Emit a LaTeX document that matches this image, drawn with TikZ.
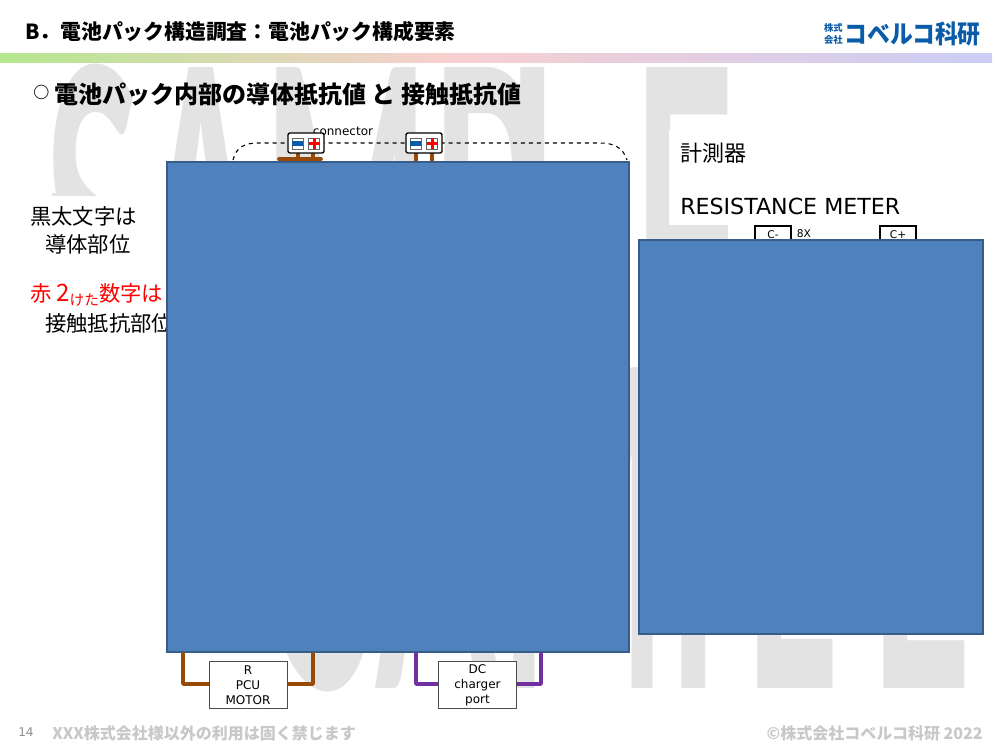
\documentclass[tikz,border=0pt]{standalone}
\usepackage{fontspec}
\setmainfont{DejaVu Sans}
\newfontfamily\jpfont{Noto Sans CJK JP}
\newfontfamily\markfont{Lato}
\usetikzlibrary{positioning}
\definecolor{packblue}{HTML}{4F81BD}
\definecolor{packedge}{HTML}{385D8A}
\definecolor{wirebrown}{HTML}{984807}
\definecolor{wirepurple}{HTML}{7030A0}
\definecolor{logoblue}{HTML}{0B5CA8}
\definecolor{markgray}{HTML}{E3E3E3}
\definecolor{footgray}{HTML}{C8C8C8}
\definecolor{barGreen}{HTML}{B5E78F}
\definecolor{barPink}{HTML}{F8CFD0}
\definecolor{barBlue}{HTML}{CACDF5}
\newcommand{\markword}{SAMP\kern-64pt L\kern64pt E}
\tikzset{
  panel/.style={draw=packedge, line width=1.5pt, fill=packblue, inner sep=0pt},
  body/.style={inner sep=0pt, anchor=west, font=\fontsize{16}{19}\selectfont\jpfont},
  devicebox/.style={draw=black!70, line width=.6pt, fill=white, minimum width=58.5pt, minimum height=35.5pt, inner sep=0pt, align=center, font=\fontsize{9}{11.2}\selectfont},
  socket/.style={draw=black, line width=1pt, rounded corners=1.5pt, fill=white, minimum width=27pt, minimum height=15pt, inner sep=0pt},
  probe/.style={draw=black, line width=1.4pt, fill=white, minimum width=27pt, minimum height=14pt, inner sep=0pt, font=\fontsize{8}{9}\selectfont},
  sign/.style={draw=black!60, line width=.4pt, fill=white, minimum size=8.5pt, inner sep=0pt},
  wire/.style={line width=2.8pt, line join=round, line cap=round},
  sample/.style={inner sep=0pt, anchor=base west, text=markgray, xscale=.4, font=\fontsize{333}{333}\selectfont\markfont\bfseries},
  foot/.style={inner sep=0pt, anchor=west, text=footgray, font=\fontsize{12}{14}\selectfont\jpfont\bfseries}
}
\begin{document}
\begin{tikzpicture}[x=.75pt, y=-.75pt]
  \useasboundingbox (0,0) rectangle (1000,750);

  % watermark
  \node[sample] (markTop) at (44,388) {\markword};
  \node[sample] (markBottom) at (281,688) {\markword};
  \fill[white] (28,196) rectangle (170,420);
  \fill[markgray] (52,193) rectangle (82,196);
  \fill[white] (669,130) rectangle (960,225);
  \fill[markgray] (660,225) rectangle (728,241);

  % head
  \node[inner sep=0pt, anchor=west, font=\fontsize{15.6}{18}\selectfont\jpfont\bfseries] (title) at (25,32) {B．電池パック構造調査：電池パック構成要素};
  \shade[left color=barGreen, right color=barPink] (0,53) rectangle (450,62);
  \shade[left color=barPink, right color=barBlue] (450,53) rectangle (992,62);
  \node[inner sep=0pt, anchor=east, text=logoblue, xscale=.9, font=\fontsize{19}{20}\selectfont\jpfont\bfseries] (logo) at (981,34) {コベルコ科研};
  \node[inner sep=0pt, align=center, anchor=east, text=logoblue, font=\fontsize{7}{9}\selectfont\jpfont\bfseries] (logoKabu) at (843,34) {株式\\会社};
  \node[inner sep=0pt, anchor=west, font=\fontsize{12}{14}\selectfont\jpfont\bfseries] (subMark) at (33,92) {○};
  \node[inner sep=0pt, anchor=west, font=\fontsize{18}{22}\selectfont\jpfont\bfseries] (subtitle) at (54,94) {電池パック内部の導体抵抗値 と 接触抵抗値};

  % left notes
  \node[body] (noteA) at (30,216) {黒太文字は};
  \node[body] (noteB) at (45,244) {導体部位};
  \node[body, text=red] (noteC) at (30,295) {赤 {\fontsize{18}{18}\selectfont 2}\raisebox{-3.5pt}{\fontsize{11}{11}\selectfont けた}数字は};
  \node[body] (noteD) at (45,323) {接触抵抗部位};

  % connector
  \node[inner sep=0pt, font=\fontsize{9}{10}\selectfont] (connLabel) at (343,131) {connector};
  \draw[dashed, line width=.8pt] (233,160) .. controls (236,147) and (245,143) .. (258,143) -- (600,143) .. controls (613,143) and (623,147) .. (627,160);
  \draw[wire, wirebrown] (279,159) -- (321,159);
  \draw[wire, wirebrown] (298,159) -- (298,150);
  \draw[wire, wirebrown] (313,159) -- (313,150);
  \draw[wire, wirebrown] (416,162) -- (416,150);
  \draw[wire, wirebrown] (432,162) -- (432,150);
  \foreach \name/\xc in {connA/306,connB/424}{
    \node[socket] (\name) at (\xc,143) {};
    \node[sign] (\name minus) at (\xc-8.5,143.5) {};
    \node[sign] (\name plus) at (\xc+8,143.5) {};
    \fill[logoblue] (\xc-14,141) rectangle (\xc-3,146);
    \fill[red] (\xc+2.5,142) rectangle (\xc+13.5,145);
    \fill[red] (\xc+6.5,138) rectangle (\xc+9.5,149);
  }

  % meter
  \node[body, font=\fontsize{16.5}{19}\selectfont\jpfont] (meterA) at (680,153) {計測器};
  \node[body, font=\fontsize{16.6}{19}\selectfont] (meterB) at (680,206) {RESISTANCE METER};
  \node[probe] (probeMinus) at (773,235) {C-};
  \node[probe] (probePlus) at (898,235) {C+};
  \node[inner sep=0pt, font=\fontsize{8}{9}\selectfont] (probeCount) at (804,234) {8X};

  % pack and meter panels
  \node[panel, minimum width=346.5pt, minimum height=367.5pt] (pack) at (397.5,407) {};
  \node[panel, minimum width=258pt, minimum height=295.5pt] (meter) at (810.5,437) {};

  % lower devices
  \draw[wire, wirebrown] (183,654) -- (183,684) -- (248,684);
  \draw[wire, wirebrown] (313,654) -- (313,684) -- (248,684);
  \draw[wire, wirepurple] (416,654) -- (416,684) -- (477,684);
  \draw[wire, wirepurple] (541,654) -- (541,684) -- (477,684);
  \node[devicebox] (pcu) at (248,685) {R\\PCU\\MOTOR};
  \node[devicebox] (charger) at (477.5,685) {DC\\charger\\port};

  % foot
  \node[inner sep=0pt, anchor=west, text=black!45, font=\fontsize{9}{11}\selectfont] (pageNo) at (18,732) {14};
  \node[foot] (footL) at (52,733) {XXX株式会社様以外の利用は固く禁じます};
  \node[foot, anchor=east] (footR) at (983,733) {©株式会社コベルコ科研 2022};
\end{tikzpicture}
\end{document}
